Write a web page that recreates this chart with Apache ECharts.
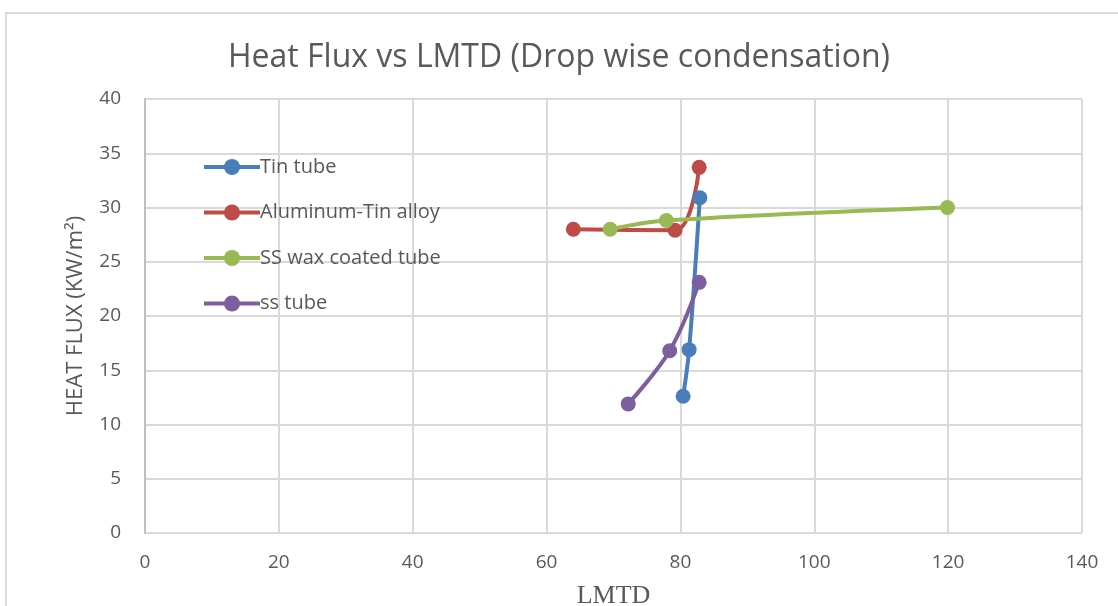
<!DOCTYPE html>
<html>
<head>
<meta charset="utf-8">
<script src="https://cdn.jsdelivr.net/npm/echarts@6/dist/echarts.min.js"></script>
<style>
  html, body { margin: 0; padding: 0; background: #fff; }
  #frame { position: absolute; left: 5px; top: 12px; width: 1130px; height: 620px; border: 2px solid #d9d9d9; box-sizing: border-box; }
  #chart { position: absolute; left: 0; top: 0; width: 1118px; height: 606px; }
</style>
</head>
<body>
<div id="frame"></div>
<div id="chart"></div>
<script>
// data
var seriesNames = ['Tin tube', 'Aluminum-Tin alloy', 'SS wax coated tube', 'ss tube'];
var tinTube = [[80.4, 12.6], [81.3, 16.9], [82.9, 30.9]];
var aluminumTin = [[64.0, 28.0], [79.2, 27.9], [82.8, 33.7]];
var ssWaxCoated = [[69.5, 28.0], [77.9, 28.8], [119.9, 30.0]];
var ssTube = [[72.2, 11.9], [78.4, 16.8], [82.8, 23.1]];
var colors = ['#4a7ebb', '#be4b48', '#98b954', '#7d5fa0'];

document.addEventListener('DOMContentLoaded', function() {
  var chart = echarts.init(document.getElementById('chart'));
  var allData = [tinTube, aluminumTin, ssWaxCoated, ssTube];

  var series = allData.map(function(d, i) {
    return {
      name: seriesNames[i],
      type: 'line',
      data: d,
      smooth: 0.35,
      symbol: 'circle',
      symbolSize: 15,
      lineStyle: { width: 4, color: colors[i] },
      itemStyle: { color: colors[i] }
    };
  });

  var option = {
    animation: false,
    color: colors,
    title: {
      text: 'Heat Flux vs LMTD (Drop wise condensation)',
      left: 'center',
      top: 37,
      textStyle: { fontFamily: 'Open Sans', fontSize: 32, fontWeight: 'normal', color: '#595959' }
    },
    legend: {
      orient: 'vertical',
      left: 197,
      top: 152,
      itemGap: 25.5,
      itemWidth: 56,
      itemHeight: 20,
      data: seriesNames,
      lineStyle: { width: 4 },
      textStyle: { fontFamily: 'Open Sans', fontSize: 20, color: '#595959', padding: [0, 0, 0, -5] }
    },
    grid: { left: 145, top: 99, right: 36, bottom: 73, outerBoundsMode: 'none' },
    xAxis: {
      type: 'value',
      min: 0, max: 140, interval: 20,
      name: 'LMTD',
      nameLocation: 'middle',
      nameGap: 50,
      nameTextStyle: { fontFamily: 'Liberation Serif', fontSize: 26, color: '#595959' },
      axisLine: { show: false },
      axisTick: { show: false },
      axisLabel: { fontFamily: 'Open Sans', fontSize: 19, color: '#595959', margin: 20 },
      splitLine: { lineStyle: { color: '#d9d9d9', width: 2 } }
    },
    yAxis: {
      type: 'value',
      min: 0, max: 40, interval: 5,
      name: 'HEAT FLUX (KW/m²)',
      nameLocation: 'middle',
      nameGap: 58,
      nameTextStyle: { fontFamily: 'Open Sans', fontSize: 22, color: '#595959' },
      axisLine: { show: true, lineStyle: { color: '#bfbfbf', width: 2 } },
      axisTick: { show: false },
      axisLabel: { fontFamily: 'Open Sans', fontSize: 19, color: '#595959', margin: 24 },
      splitLine: { lineStyle: { color: '#d9d9d9', width: 2 } }
    },
    graphic: [{
      type: 'rect',
      shape: { x: 1081, y: 99, width: 1, height: 434 },
      style: { fill: '#d9d9d9' },
      silent: true
    }],
    series: series
  };
  chart.setOption(option);
});
</script>
</body>
</html>
